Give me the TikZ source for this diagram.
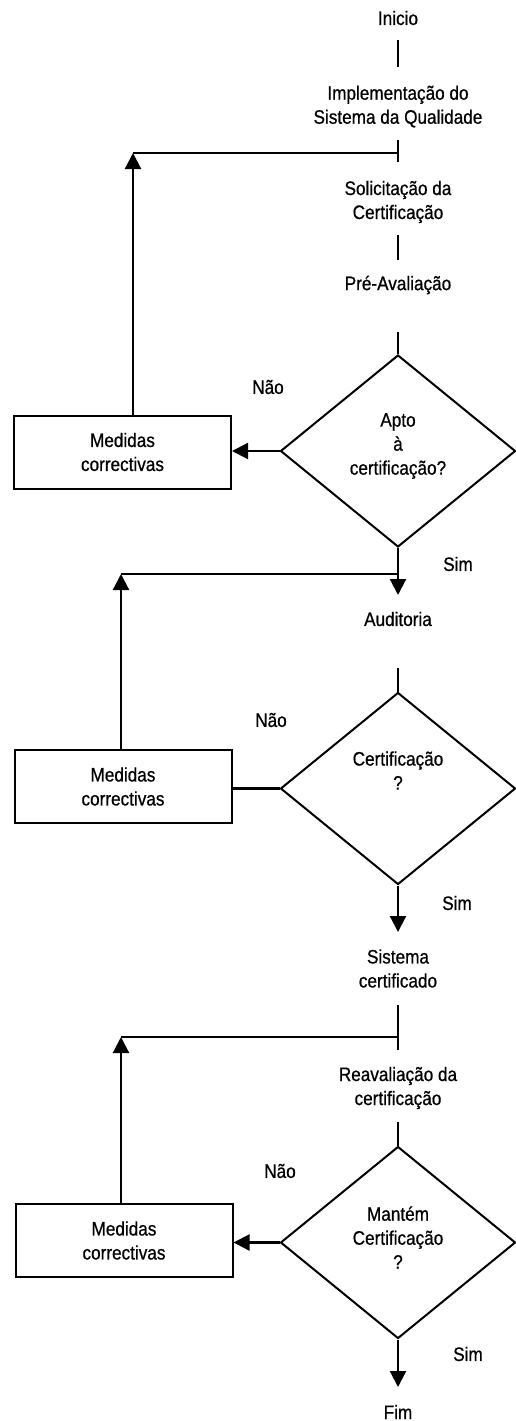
\documentclass[tikz,border=0pt]{standalone}
\usepackage{fontspec}
\setmainfont{Liberation Sans}[FakeStretch=0.88,FakeBold=0.7]
\usetikzlibrary{shapes.geometric,arrows.meta}
\begin{document}
\begin{tikzpicture}[x=1pt,y=-1pt,
  every node/.style={font=\fontsize{19.5}{24}\selectfont},
  txt/.style={align=center,inner sep=0pt},
  box/.style={draw,line width=2pt,minimum width=217pt,minimum height=73pt,inner sep=0pt,align=center},
  decision/.style={draw,diamond,line width=2pt,minimum width=235pt,minimum height=192pt,inner sep=0pt},
  flow/.style={line width=2.2pt},
  arr/.style={flow,-{Triangle[length=16pt,width=16pt]}},
]
\useasboundingbox (0,0) rectangle (515,1421);

% main column
\node[txt] (inicio) at (398,18) {Inicio};
\node[txt] (impl) at (398,106.5) {Implementação do\\Sistema da Qualidade};
\node[txt] (solic) at (398,202) {Solicitação da\\Certificação};
\node[txt] (pre) at (398,285) {Pré-Avaliação};
\node[decision] (d1) at (398,451) {};
\node[txt] (q1) at ([yshift=5pt]d1.center) {Apto\\à\\certificação?};
\node[txt] (aud) at (398,619) {Auditoria};
\node[decision] (d2) at (398,788.5) {};
\node[txt] (q2) at ([yshift=18pt]d2.center) {Certificação\\?};
\node[txt] (sist) at (398,968.5) {Sistema\\certificado};
\node[txt] (reav) at (398,1088) {Reavaliação da\\certificação};
\node[decision] (d3) at (398,1242.5) {};
\node[txt] (q3) at ([yshift=5pt]d3.center) {Mantém\\Certificação\\?};
\node[txt] (fim) at (398,1412) {Fim};

% corrective actions
\node[box] (m1) at (122.5,452) {Medidas\\correctivas};
\node[box] (m2) at (123,786.5) {Medidas\\correctivas};
\node[box] (m3) at (124,1240.5) {Medidas\\correctivas};

% branch labels
\node[txt] (nao1) at (268,387) {Não};
\node[txt] (sim1) at (458,564) {Sim};
\node[txt] (nao2) at (271,720) {Não};
\node[txt] (sim2) at (457,903) {Sim};
\node[txt] (nao3) at (280,1171) {Não};
\node[txt] (sim3) at (468,1354) {Sim};

% junctions and loop corners
\coordinate (j1) at (398,153);
\coordinate (k1) at (133,153);
\coordinate (j2) at (398,574);
\coordinate (k2) at (121,574);
\coordinate (j3) at (398,1037);
\coordinate (k3) at (121,1037);

% main flow
\draw[flow,shorten <=22pt,shorten >=39.5pt] (inicio.center) -- (impl.center);
\draw[flow,shorten <=33.5pt,shorten >=40pt] (impl.center) -- (solic.center);
\draw[flow,shorten <=33pt,shorten >=25pt] (solic.center) -- (pre.center);
\draw[flow,shorten <=47pt] (pre.center) -- (d1.north);
\draw[arr,shorten >=24pt] (d1.south) -- (aud.center);
\draw[flow,shorten <=49pt] (aud.center) -- (d2.north);
\draw[arr,shorten >=36.5pt] (d2.south) -- (sist.center);
\draw[flow,shorten <=36.5pt,shorten >=38pt] (sist.center) -- (reav.center);
\draw[flow,shorten <=34pt] (reav.center) -- (d3.north);
\draw[arr,shorten >=25pt] (d3.south) -- (fim.center);

% "Não" branches
\draw[arr] (d1.west) -- (d1.west -| m1.east);
\draw[flow] (d2.west) -- (d2.west -| m2.east);
\draw[arr] (d3.west) -- (d3.west -| m3.east);

% loops back to the main flow
\draw[arr] (m1.north -| k1) -- (k1);
\draw[flow] (k1) -- (j1);
\draw[arr] (m2.north -| k2) -- (k2);
\draw[flow] (k2) -- (j2);
\draw[arr] (m3.north -| k3) -- (k3);
\draw[flow] (k3) -- (j3);
\end{tikzpicture}
\end{document}
